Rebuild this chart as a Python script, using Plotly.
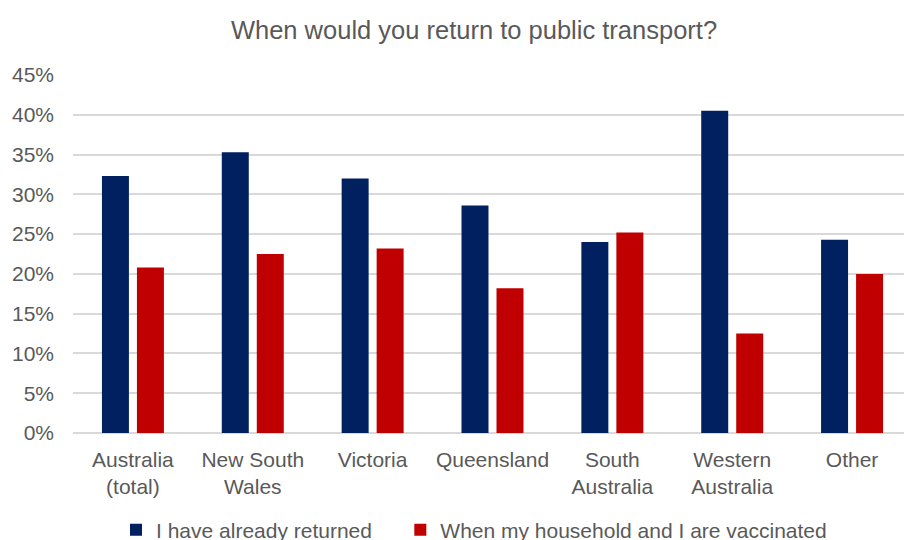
import plotly.graph_objects as go

categories = ["Australia<br>(total)", "New South<br>Wales", "Victoria", "Queensland",
              "South<br>Australia", "Western<br>Australia", "Other"]
already_returned = [0.323, 0.353, 0.320, 0.286, 0.240, 0.405, 0.243]
when_vaccinated = [0.208, 0.225, 0.232, 0.182, 0.252, 0.125, 0.200]

series_names = ["I have already returned", "When my household and I are vaccinated"]
colors = ["#002060", "#C00000"]

fig = go.Figure()
for name, vals, col in zip(series_names, [already_returned, when_vaccinated], colors):
    fig.add_trace(go.Bar(x=categories, y=vals, name=name + "\u00a0" * 4 if col == colors[0] else name,
                         marker=dict(color=col, line=dict(width=0))))

# The page body has an 8px margin, so the figure is 904x532 to fill the 912x540 window.
W, H = 904, 532
font_family = "Liberation Sans, Arial, sans-serif"
fig.update_layout(
    width=W, height=H,
    margin=dict(l=65, r=0, t=67, b=107, autoexpand=False),
    paper_bgcolor="white", plot_bgcolor="white",
    font=dict(family=font_family, size=21, color="#595959"),
    title=dict(text="When would you return to public transport?",
               x=466 / W, xanchor="center", y=1 - 22 / H, yanchor="middle",
               font=dict(size=25.5, color="#595959")),
    barmode="group", bargap=0.416, bargroupgap=0.229,
    showlegend=True,
    legend=dict(orientation="h", xref="container", x=108 / W, xanchor="left",
                yref="container", y=10 / H, yanchor="middle",
                font=dict(size=21, color="#595959"), itemwidth=30,
                traceorder="normal"),
)
fig.update_yaxes(range=[0, 0.45], dtick=0.05, tickformat=".0%", automargin=False,
                 showgrid=True, gridcolor="#D9D9D9", gridwidth=1.5,
                 zeroline=True, zerolinecolor="#D9D9D9", zerolinewidth=1.5,
                 showline=False, ticks="", ticklabelstandoff=18)
fig.update_xaxes(showgrid=False, showline=False, ticks="", automargin=False,
                 ticklabelstandoff=12)

fig.write_html("out.html")
